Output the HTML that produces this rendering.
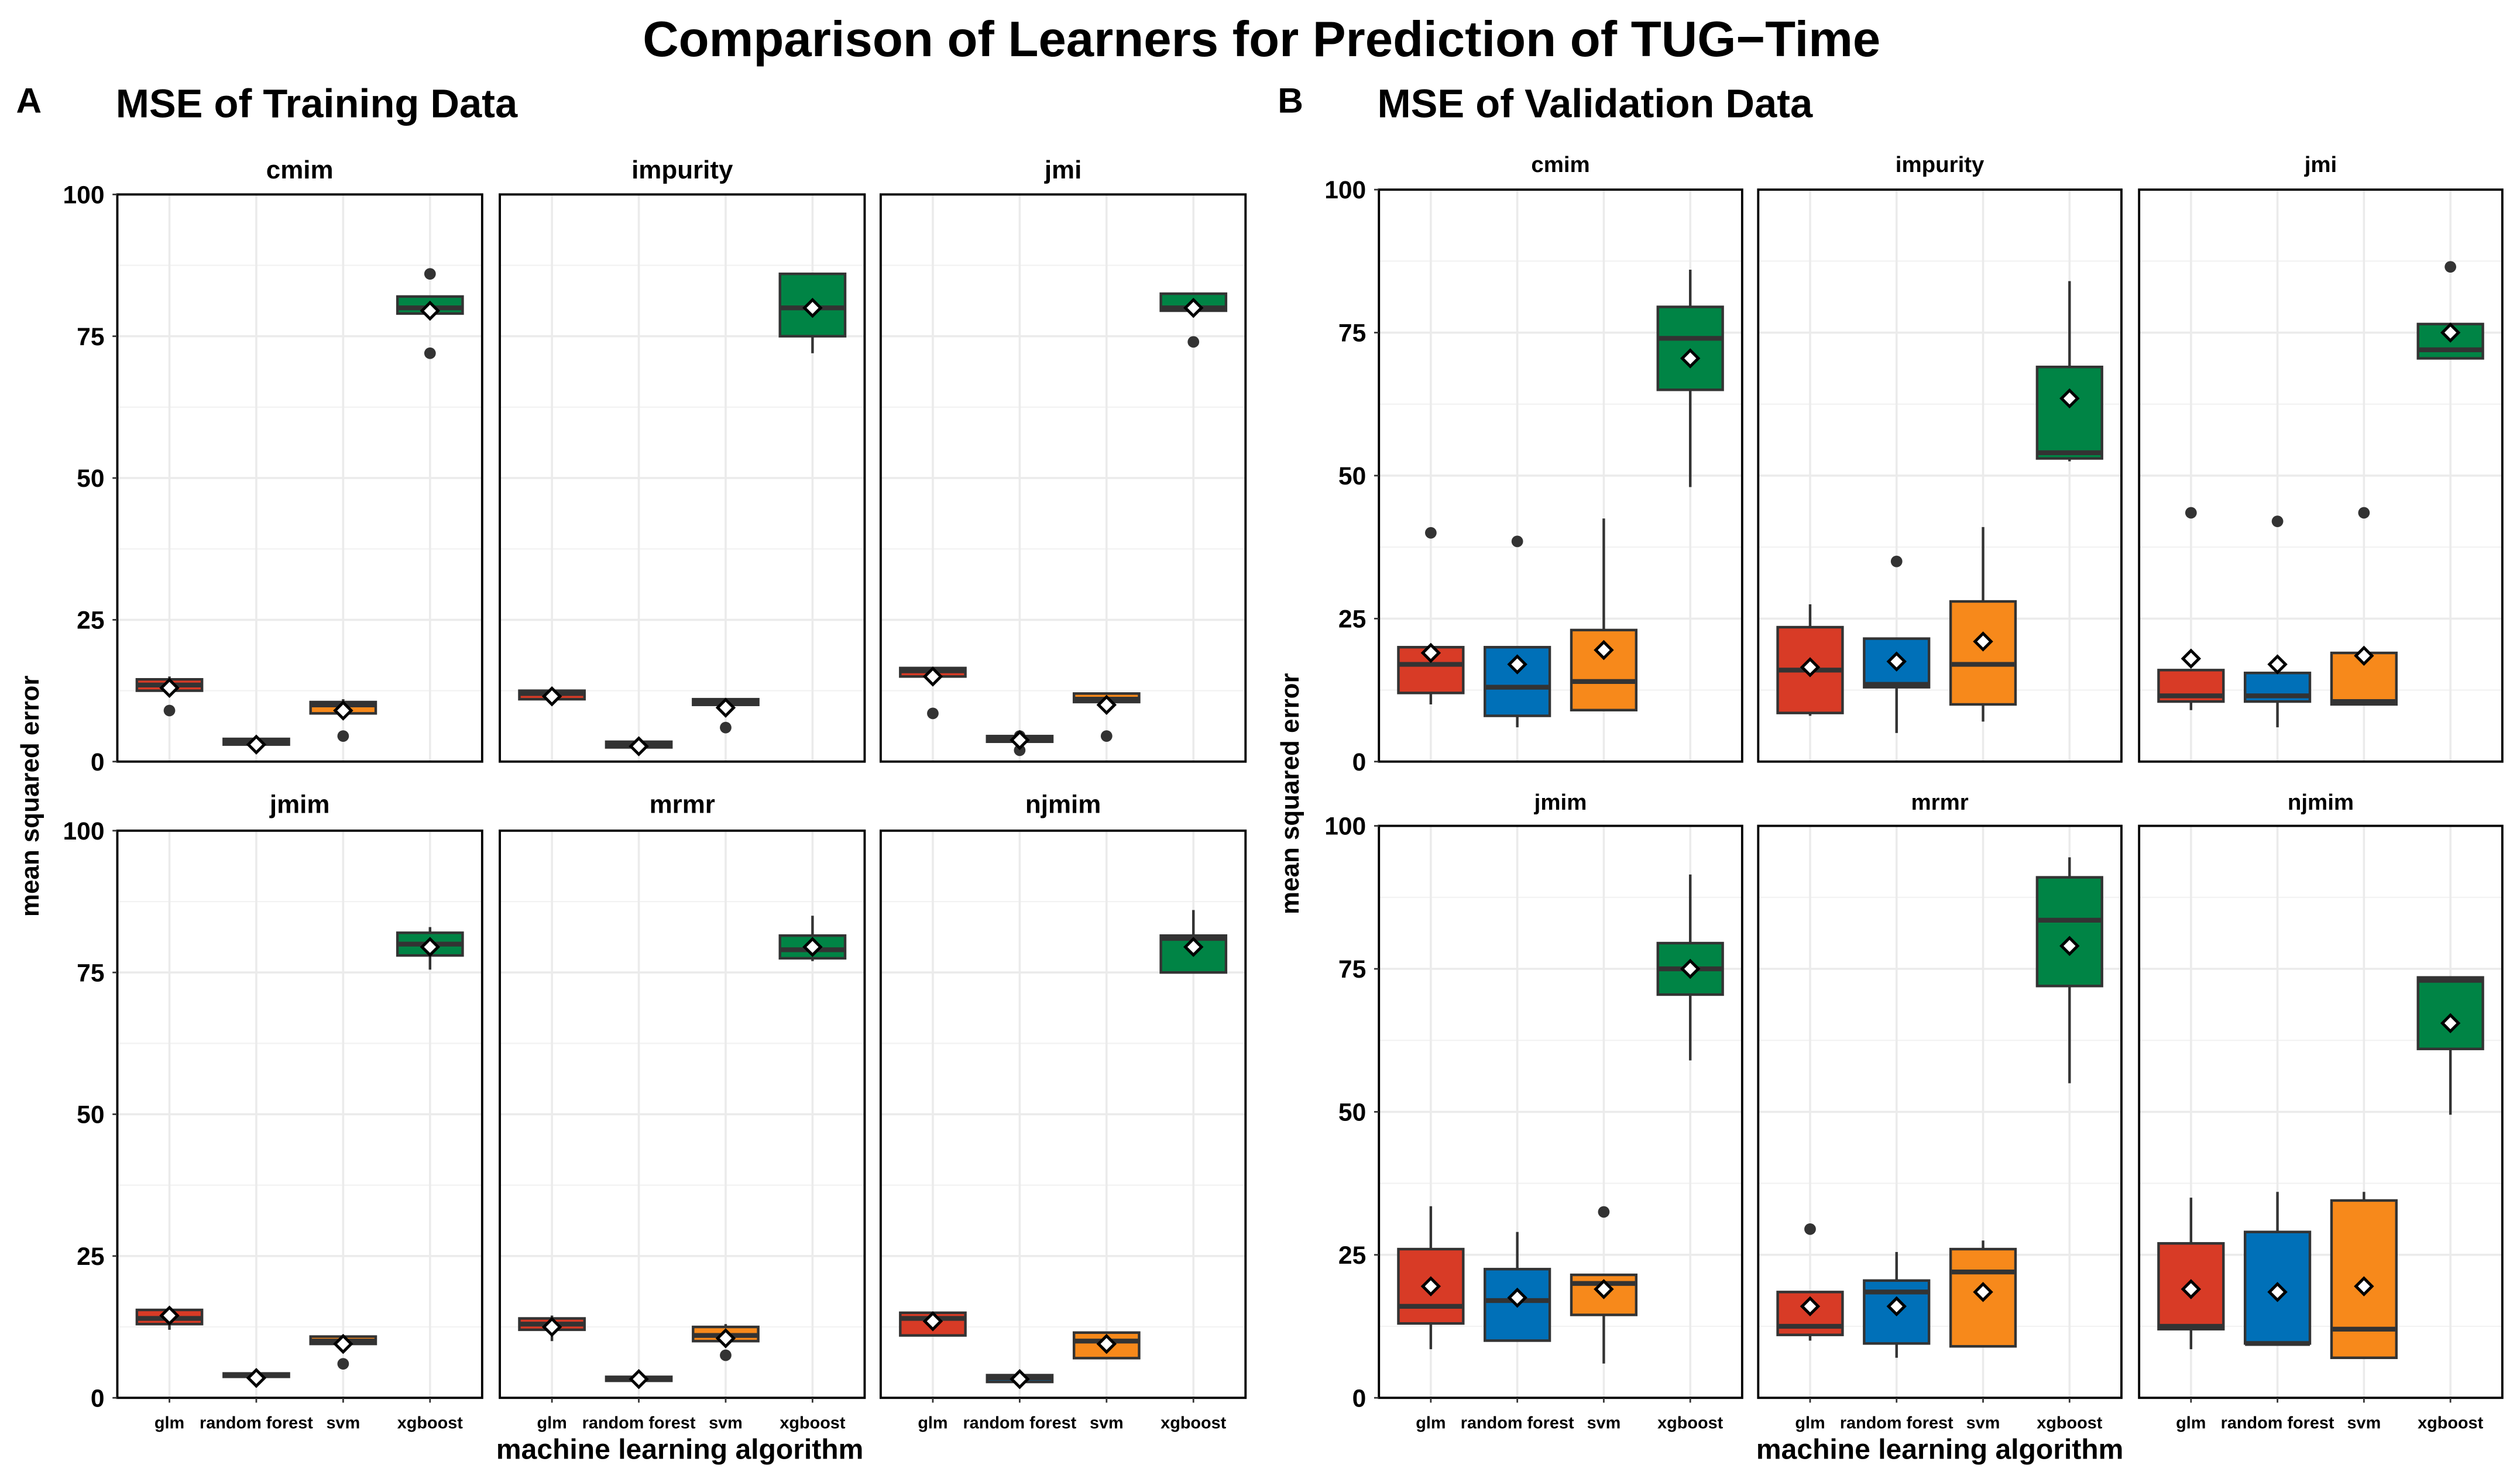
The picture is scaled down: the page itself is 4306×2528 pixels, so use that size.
<!DOCTYPE html>
<html><head><meta charset="utf-8"><style>
html,body{margin:0;padding:0;background:#fff;}
svg{display:block;font-family:"Liberation Sans",Arial,sans-serif;}
</style></head><body>
<svg id="chart" width="4306" height="2528" viewBox="0 0 1568 920.5" xmlns="http://www.w3.org/2000/svg">
<rect width="1568" height="920.5" fill="#fff"/>
<text x="785" y="35" font-size="31" font-weight="bold" text-anchor="middle">Comparison of Learners for Prediction of TUG−Time</text>
<text x="10" y="70" font-size="22" font-weight="bold">A</text>
<text x="72" y="73" font-size="25" font-weight="bold">MSE of Training Data</text>
<text x="795" y="70" font-size="22" font-weight="bold">B</text>
<text x="857" y="73" font-size="25" font-weight="bold">MSE of Validation Data</text>
<g id="plots"></g>
</svg>
<script>
const categories = ["glm","random forest","svm","xgboost"];
const facets = ["cmim","impurity","jmi","jmim","mrmr","njmim"];
const yTicks = [0,25,50,75,100];
const colors = ["#d83b26","#0070b8","#f7891b","#008445"];
// each box: [lowWhisker, q1, median, q3, highWhisker, mean]
const trainBoxes = [
 [[12,12.5,13.5,14.5,15,13],[2.5,3,3.5,4,4.2,3],[8,8.5,10,10.5,11,9],[79,79,80,82,82,79.5]],
 [[10,11,12,12.5,13,11.5],[2,2.5,3,3.5,3.8,2.7],[9,10,10.5,11,11,9.5],[72,75,80,86,86,80]],
 [[15,15,16,16.5,16.5,15],[3,3.5,4,4.5,4.8,3.8],[10,10.5,11,12,12,10],[79,79.5,80,82.5,82.5,80]],
 [[12,13,14,15.5,16,14.5],[3.5,3.7,4,4.3,4.5,3.5],[9,9.5,10,10.8,11,9.5],[75.5,78,80,82,83,79.5]],
 [[10,12,13,14,14.5,12.5],[2.8,3,3.3,3.7,4,3.3],[9,10,11,12.5,13,10.5],[77,77.5,79,81.5,85,79.5]],
 [[11,11,14,15,15,13.5],[2.5,2.8,3.5,4,4.2,3.3],[7,7,10,11.5,11.5,9.5],[75,75,81,81.5,86,79.5]]
];
const trainOutliers = [
 [[9],[],[4.5],[86,72]],
 [[],[],[6],[]],
 [[8.5],[2,4.5],[4.5],[74]],
 [[],[],[6],[]],
 [[],[],[7.5],[]],
 [[],[],[],[]]
];
const validBoxes = [
 [[10,12,17,20,20,19],[6,8,13,20,20,17],[9,9,14,23,42.5,19.5],[48,65,74,79.5,86,70.5]],
 [[8,8.5,16,23.5,27.5,16.5],[5,13,13.5,21.5,21.5,17.5],[7,10,17,28,41,21],[52.5,53,54,69,84,63.5]],
 [[9,10.5,11.5,16,16,18],[6,10.5,11.5,15.5,15.5,17],[10,10,10.5,19,19,18.5],[70.5,70.5,72,76.5,76.5,75]],
 [[8.5,13,16,26,33.5,19.5],[10,10,17,22.5,29,17.5],[6,14.5,20,21.5,21.5,19],[59,70.5,75,79.5,91.5,75]],
 [[10,11,12.5,18.5,18.5,16],[7,9.5,18.5,20.5,25.5,16],[9,9,22,26,27.5,18.5],[55,72,83.5,91,94.5,79]],
 [[8.5,12,12.5,27,35,19],[9.5,9.5,9.5,29,36,18.5],[7,7,12,34.5,36,19.5],[49.5,61,73,73.5,73.5,65.5]]
];
const validOutliers = [
 [[40],[38.5],[],[]],
 [[],[35],[],[]],
 [[43.5],[42],[43.5],[86.5]],
 [[],[],[32.5],[]],
 [[29.5],[],[],[]],
 [[],[],[],[]]
];
const NS="http://www.w3.org/2000/svg";
const root=document.getElementById("plots");
function mk(tag,attrs,parent){const e=document.createElementNS(NS,tag);for(const k in attrs)e.setAttribute(k,attrs[k]);(parent||root).appendChild(e);return e;}

function drawSection(sec,boxes,outs,xs,rows,stripY,stripSize,yLabX,yTitleX,xTitleX){
  const g=mk("g",{});
  
  
  for(let f=0;f<6;f++){
    const col=f%3,row=Math.floor(f/3);
    const x0=xs[col][0],x1=xs[col][1],y0=rows[row][0],y1=rows[row][1];
    const yS=v=>y1-(v/100)*(y1-y0);
    const xS=i=>x0+(x1-x0)*(i+0.6)/4.2;
    const bw=(x1-x0)*0.75/4.2;
    const pg=mk("g",{},g);
    
    
    mk("rect",{x:x0,y:y0,width:x1-x0,height:y1-y0,fill:"#fff"},pg);
    for(let t=0;t<yTicks.length;t++){
      mk("line",{x1:x0,x2:x1,y1:yS(yTicks[t]),y2:yS(yTicks[t]),stroke:"#ebebeb","stroke-width":1.3},pg);
      if(t<yTicks.length-1){const m=(yTicks[t]+yTicks[t+1])/2;mk("line",{x1:x0,x2:x1,y1:yS(m),y2:yS(m),stroke:"#f2f2f2","stroke-width":0.8},pg);}
    }
    for(let i=0;i<categories.length;i++) mk("line",{x1:xS(i),x2:xS(i),y1:y0,y2:y1,stroke:"#ebebeb","stroke-width":1.3},pg);
    const st=mk("text",{x:(x0+x1)/2,y:stripY[row],"font-size":stripSize,"font-weight":"bold","text-anchor":"middle"},pg);
    st.textContent=facets[f];
    
    
    for(let i=0;i<categories.length;i++){
      const b=boxes[f][i],cx=xS(i);
      const bg=mk("g",{},pg);
      
      
      mk("line",{x1:cx,x2:cx,y1:yS(b[0]),y2:yS(b[4]),stroke:"#333","stroke-width":1.6},bg);
      mk("rect",{x:cx-bw/2,y:yS(b[3]),width:bw,height:Math.max(0.5,yS(b[1])-yS(b[3])),fill:colors[i],stroke:"#333","stroke-width":1.6},bg);
      mk("line",{x1:cx-bw/2,x2:cx+bw/2,y1:yS(b[2]),y2:yS(b[2]),stroke:"#333","stroke-width":3},bg);
      for(const o of outs[f][i]){
        const c=mk("circle",{cx:cx,cy:yS(o),r:3.6,fill:"#333"},bg);
        
        
      }
      const my=yS(b[5]);
      const d=mk("polygon",{points:`${cx},${my-5} ${cx+5},${my} ${cx},${my+5} ${cx-5},${my}`,fill:"#fff",stroke:"#000","stroke-width":1.8},bg);
      
      
    }
    mk("rect",{x:x0,y:y0,width:x1-x0,height:y1-y0,fill:"none",stroke:"#000","stroke-width":1.4},pg);
    if(col===0){
      for(const t of yTicks){
        mk("line",{x1:x0-3,x2:x0,y1:yS(t),y2:yS(t),stroke:"#333","stroke-width":1},pg);
        const tl=mk("text",{x:x0-8,y:yS(t)+5.5,"font-size":15.5,"font-weight":"bold","text-anchor":"end"},pg);
        tl.textContent=t;
        
        
      }
    }
    if(row===1){
      for(let i=0;i<categories.length;i++){
        mk("line",{x1:xS(i),x2:xS(i),y1:y1,y2:y1+3,stroke:"#333","stroke-width":1},pg);
        const xl=mk("text",{x:xS(i),y:y1+19,"font-size":10.5,"font-weight":"bold","text-anchor":"middle"},pg);
        xl.textContent=categories[i];
        
        
      }
    }
  }
  const yt=mk("text",{x:0,y:0,"font-size":16,"font-weight":"bold","text-anchor":"middle",transform:`translate(${yTitleX},${(rows[0][0]+rows[1][1])/2}) rotate(-90)`},g);
  yt.textContent="mean squared error";
  
  
  const xt=mk("text",{x:xTitleX,y:908,"font-size":17.5,"font-weight":"bold","text-anchor":"middle"},g);
  xt.textContent="machine learning algorithm";
  
  
}
drawSection("training",trainBoxes,trainOutliers,[[73,300],[311,538],[548,775]],[[121,474],[517,870]],[111,506],16,63,24,423);
drawSection("validation",validBoxes,validOutliers,[[858,1084],[1094,1320],[1331,1557]],[[118,474],[514,870]],[107,504],14,848,808,1207);
</script>
</body></html>
